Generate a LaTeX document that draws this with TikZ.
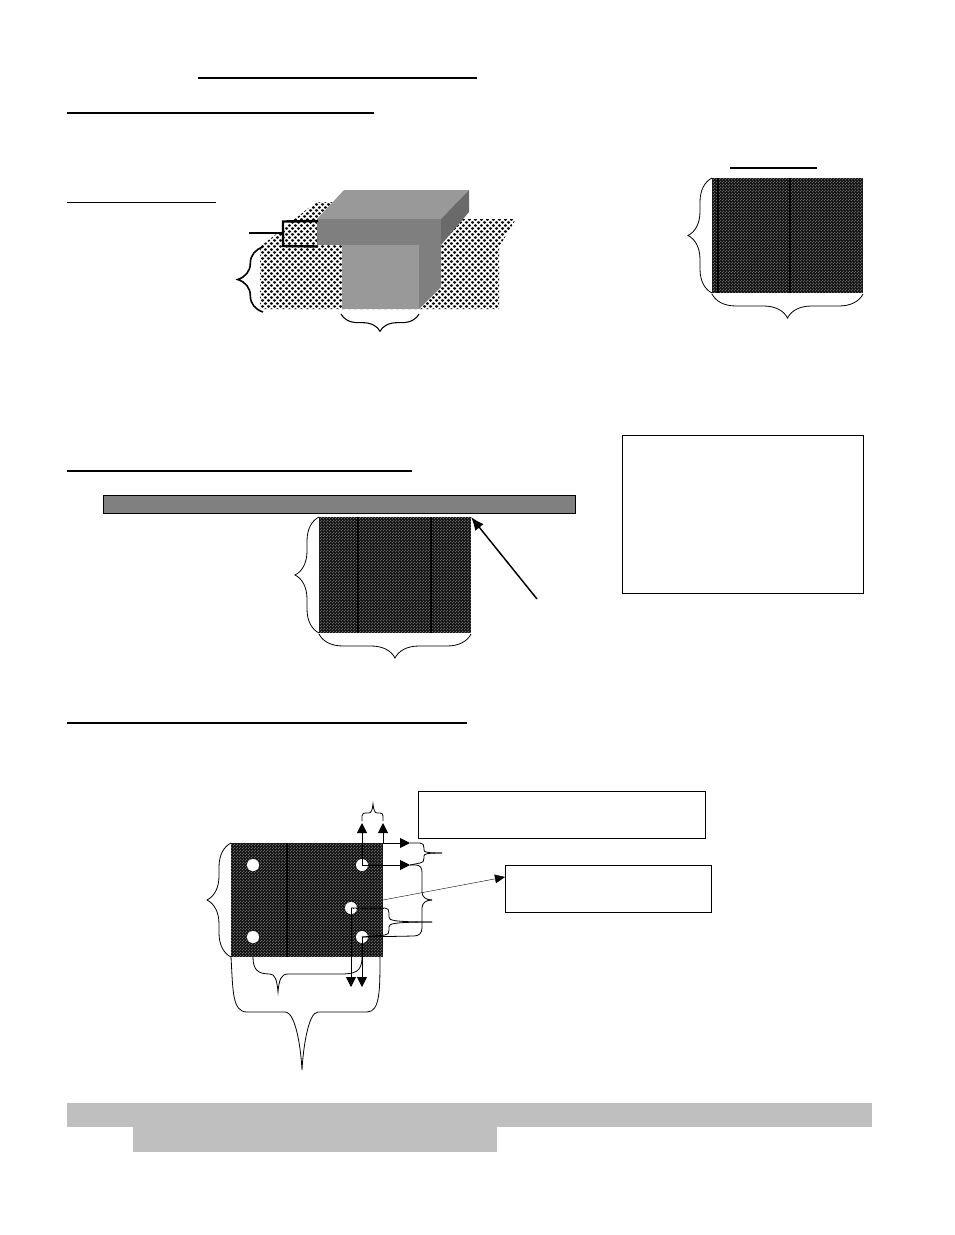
\documentclass[tikz,border=0pt]{standalone}
\usepackage{tikz}
\usetikzlibrary{arrows.meta,patterns,positioning,calc,decorations.pathreplacing}
\pgfdeclarepatternformonly{meshdots}{\pgfqpoint{-0.2pt}{-0.2pt}}{\pgfqpoint{2.45pt}{2.45pt}}{\pgfqpoint{2.25pt}{2.25pt}}{
    \pgfpathcircle{\pgfqpoint{0.56pt}{0.56pt}}{0.34pt}
    \pgfpathcircle{\pgfqpoint{1.69pt}{1.69pt}}{0.34pt}
    \pgfusepath{fill}}
\pgfdeclarepatternformonly{gravel}{\pgfqpoint{-0.5pt}{-0.5pt}}{\pgfqpoint{5pt}{5pt}}{\pgfqpoint{4.5pt}{4.5pt}}{
    \pgfpathellipse{\pgfqpoint{1.1pt}{1.1pt}}{\pgfqpoint{1.3pt}{0.3pt}}{\pgfqpoint{-0.3pt}{1.05pt}}
    \pgfpathellipse{\pgfqpoint{3.4pt}{3.4pt}}{\pgfqpoint{1.3pt}{-0.3pt}}{\pgfqpoint{0.3pt}{1.05pt}}
    \pgfusepath{fill}}
\definecolor{slabtop}{HTML}{999999}
\definecolor{slabfront}{HTML}{7F7F7F}
\definecolor{slabside}{HTML}{6A6A6A}
\definecolor{barfill}{HTML}{808080}
\definecolor{bandfill}{HTML}{BFBFBF}
\tikzset{
    rule/.style={line width=1pt, black},
    mesh/.style={anchor=north west, inner sep=0pt, outer sep=0pt, preaction={fill=black!92}, pattern=meshdots, pattern color=white},
    rebar/.style={line width=0.9pt, black},
    hole/.style={circle, fill=white, inner sep=0pt, minimum size=9pt},
    cbrace/.style={decorate, decoration={brace, aspect=0.5, amplitude=#1}, line width=0.6pt, black},
    cbrace/.default=8pt,
    curly/.style={line width=0.6pt, black},
    dimarrow/.style={-{Triangle[length=7.5pt, width=7.5pt]}, line width=0.7pt, black},
    textbox/.style={draw, anchor=north west, inner sep=0pt, line width=0.6pt}
}

\begin{document}
\begin{tikzpicture}[x=0.75pt, y=-0.75pt]
    \useasboundingbox (0,0) rectangle (954,1235);
    % heading rules
    \draw[rule] (198,78) -- (477,78);
    \draw[rule] (67,113) -- (374,113);
    \draw[rule, line width=0.7pt] (67,202) -- (216,202);
    \draw[rule] (730,168) -- (817,168);
    \draw[rule] (67,471) -- (412,471);
    \draw[rule] (67,723) -- (467,723);

    % footing sketch
    \path[fill=white, postaction={pattern=gravel, pattern color=black}]
        (260,247) -- (316,202) -- (340,202) -- (340,219) -- (516,219) -- (499,247) -- (499,309) -- (260,309) -- cycle;
    \fill[slabfront] (419,245) -- (441,245) -- (441,287) -- (419,309) -- cycle;
    \fill[slabtop] (342,245) rectangle (419,309);
    \fill[slabtop] (317,219) -- (344,190) -- (469,190) -- (441,219) -- cycle;
    \fill[slabfront] (317,219) rectangle (441,245);
    \fill[slabside] (441,219) -- (469,190) -- (469,212) -- (441,245) -- cycle;
    \coordinate (legtop) at (318,221);
    \coordinate (legbot) at (318,246.5);
    \coordinate (legtip) at (249,233);
    \draw[line width=1.8pt] (legtop) -- (283,221.5) -- (283,246) -- (legbot);
    \draw[line width=1.8pt] (legtip) -- (282,233);
    \coordinate (deptha) at (263,312);
    \coordinate (depthb) at (263,247);
    \draw[cbrace=19pt, line width=1.2pt] (deptha) -- (depthb);
    \coordinate (widtha) at (419,314);
    \coordinate (widthb) at (341,314);
    \draw[cbrace=13pt, line width=0.8pt] (widtha) -- (widthb);

    % plan at upper right
    \node[mesh, minimum width=113.25pt, minimum height=86.25pt] (planA) at (712,178) {};
    \draw[rebar] (718,178) -- (718,293);
    \draw[rebar] (790,178) -- (790,293);
    \draw[cbrace=18pt] (planA.south west) -- (planA.north west);
    \draw[cbrace=18pt] ($(planA.south east)+(0,1)$) -- ($(planA.south west)+(0,1)$);
    \node[textbox, minimum width=180.75pt, minimum height=118.5pt] (noteA) at (621.5,435) {};

    % plan under the wall
    \node[draw, anchor=north west, inner sep=0pt, fill=barfill, minimum width=354pt, minimum height=13.5pt, line width=0.8pt] (wall) at (102.5,495) {};
    \node[mesh, minimum width=114pt, minimum height=87pt] (planB) at (319,517) {};
    \draw[rebar] (358,517) -- (358,633);
    \draw[rebar] (431,517) -- (431,633);
    \draw[cbrace=18pt] (planB.south west) -- (planB.north west);
    \draw[cbrace=18pt] ($(planB.south east)+(0,1)$) -- ($(planB.south west)+(0,1)$);
    \coordinate (edgetail) at (537,599);
    \draw[-{Latex[length=10pt, width=8pt]}, line width=1.1pt] (edgetail) -- (planB.north east);

    % anchor bolt plan
    \node[textbox, line width=1pt, minimum width=215.25pt, minimum height=35.25pt] (noteB) at (418,791) {};
    \node[textbox, line width=0.9pt, minimum width=154.5pt, minimum height=35.25pt] (noteC) at (505,865) {};
    \node[mesh, minimum width=114pt, minimum height=85.5pt] (plate) at (231,843) {};
    \draw[rebar] (287,843) -- (287,957);
    \node[hole] (boltA) at (253,865) {};
    \node[hole] (boltB) at (362,865) {};
    \node[hole] (boltC) at (351,908) {};
    \node[hole] (boltD) at (253,937) {};
    \node[hole] (boltE) at (362,937) {};
    \coordinate (upA) at (362,823);
    \coordinate (upB) at (383,823);
    \coordinate (rightA) at (410,843);
    \coordinate (rightB) at (410,865);
    \coordinate (downA) at (351,987);
    \coordinate (downB) at (362,987);
    \coordinate (noteCin) at (505,877);
    \draw[dimarrow] (boltB.center) -- (upA);
    \draw[dimarrow] (plate.north east) -- (upB);
    \draw[dimarrow] (plate.north east) -- (rightA);
    \draw[dimarrow] (boltB.center) -- (rightB);
    \draw[dimarrow] (boltC.center) -- (downA);
    \draw[dimarrow] (boltE.center) -- (downB);
    \draw[-{Triangle[length=7.5pt, width=6.5pt]}, line width=0.3pt] (plate.east) -- (noteCin);
    \draw[densely dotted, line width=0.7pt] (boltC.center) -- (384,908);
    \draw[cbrace=18pt] (plate.south west) -- (plate.north west);
    % small braces
    \coordinate (tipspacing) at (373,804);
    \draw[curly] (upA) ++(0,-2) -- (362,816) .. controls (362,813) and (364,813) .. (366,813) -- (369,813) .. controls (371,813) and (372.5,810) .. (tipspacing)
        .. controls (373.5,810) and (375,813) .. (377,813) -- (380,813) .. controls (382,813) and (383,814) .. (383,816) -- (383,821);
    \coordinate (tickA) at (442,853);
    \draw[curly] (rightA) -- (420,843) .. controls (423,843) and (424,845) .. (424,848) -- (424,850) .. controls (424,852) and (426,853) .. (tickA);
    \draw[curly] (rightB) -- (420,863) .. controls (423,863) and (424,861) .. (424,858) -- (424,856) .. controls (424,854) and (426,853) .. (tickA);
    \coordinate (tickB) at (432,922);
    \draw[curly] (boltC.center) -- (385,908) .. controls (388,908) and (389,910) .. (389,913) -- (389,917) .. controls (389,920) and (391,922) .. (tickB);
    \draw[curly] (boltE.center) -- (385,935) .. controls (388,935) and (389,933) .. (389,930) -- (389,927) .. controls (389,924) and (391,922) .. (tickB);
    \coordinate (tipC) at (432,900);
    \draw[curly] (rightB) -- (416,865) .. controls (420,865) and (422,868) .. (422,872) -- (422,892) .. controls (422,897) and (426,900) .. (tipC);
    \draw[curly] (boltE.center) -- (414,936) .. controls (419,936) and (422,933) .. (422,928) -- (422,908) .. controls (422,903) and (426,900) .. (tipC);
    % braces below the plate
    \coordinate (spanmid) at (278,992);
    \draw[curly] (253,957) .. controls (253,970) and (258,974) .. (270,974) .. controls (275,974) and (277,980) .. (spanmid)
        .. controls (279,980) and (281,974) .. (288,974) -- (340,974) .. controls (355,974) and (362,972) .. (362,957);
    \coordinate (totalmid) at (302,1070);
    \draw[curly] (231,957) .. controls (233,990) and (232,1012) .. (247,1012) -- (285,1012) .. controls (296,1012) and (301,1050) .. (totalmid)
        .. controls (303,1050) and (308,1012) .. (318,1012) -- (367,1012) .. controls (380,1012) and (380,990) .. (380,957);

    % bands at the foot of the page
    \node[anchor=north west, inner sep=0pt, fill=bandfill, minimum width=603.75pt, minimum height=18pt] (bandA) at (67,1103) {};
    \node[anchor=north west, inner sep=0pt, fill=bandfill, minimum width=273pt, minimum height=18.75pt] (bandB) at (133,1127) {};
\end{tikzpicture}
\end{document}
